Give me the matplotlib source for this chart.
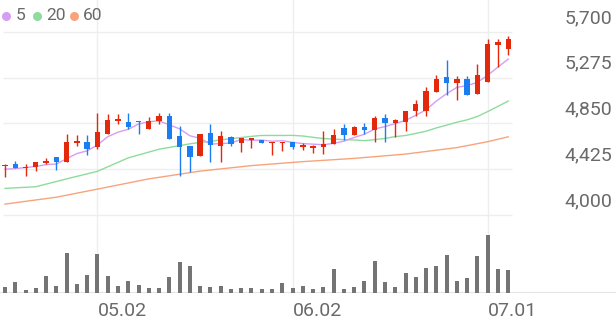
import numpy as np
import pandas as pd
import matplotlib
matplotlib.use("Agg")
import matplotlib.pyplot as plt
from matplotlib import transforms

# daily OHLC, 50 sessions (Apr 18 .. Jul 3)
opens = [4450, 4470, 4435, 4445, 4485, 4535, 4490, 4665, 4680, 4635,
         4755, 4875, 4865, 4875, 4800, 4875, 4920, 4730, 4640, 4545,
         4765, 4640, 4725, 4665, 4695, 4700, 4665, 4665, 4675, 4635,
         4625, 4635, 4655, 4805, 4740, 4820, 4790, 4900, 4850, 4865,
         4960, 4965, 5140, 5280, 5220, 5260, 5120, 5230, 5580, 5540]
highs = [4470, 4500, 4470, 4490, 4530, 4535, 4755, 4740, 4745, 4950,
         4935, 4935, 4950, 4875, 4910, 4945, 4945, 4825, 4640, 4755,
         4840, 4780, 4735, 4710, 4710, 4700, 4680, 4680, 4675, 4665,
         4650, 4780, 4795, 4840, 4830, 4850, 4920, 4935, 4890, 4965,
         5070, 5185, 5300, 5440, 5290, 5290, 5400, 5630, 5630, 5660]
lows = [4350, 4435, 4365, 4410, 4470, 4415, 4490, 4640, 4555, 4615,
        4755, 4840, 4795, 4755, 4800, 4840, 4705, 4365, 4400, 4545,
        4495, 4490, 4640, 4580, 4625, 4665, 4555, 4595, 4610, 4600,
        4575, 4565, 4655, 4695, 4740, 4755, 4680, 4680, 4720, 4775,
        4920, 4920, 5140, 5110, 5070, 5110, 5120, 5230, 5375, 5485]
closes = [4465, 4435, 4445, 4490, 4500, 4495, 4680, 4685, 4615, 4770,
          4880, 4890, 4820, 4860, 4875, 4920, 4705, 4635, 4540, 4755,
          4650, 4735, 4655, 4710, 4710, 4665, 4680, 4680, 4635, 4650,
          4640, 4655, 4740, 4740, 4820, 4790, 4900, 4850, 4880, 4965,
          5030, 5150, 5260, 5220, 5260, 5110, 5300, 5590, 5600, 5630]
volumes = [6, 11, 3, 5, 17, 7, 40, 9, 18, 39,
           17, 7, 12, 8, 5, 5, 16, 31, 27, 7,
           6, 7, 4, 5, 5, 4, 4, 10, 5, 7,
           4, 6, 24, 4, 6, 12, 32, 11, 6, 20,
           16, 25, 27, 38, 12, 15, 37, 58, 24, 23]

# moving averages: heads (need history before the window)
ma5_head = [4425, 4430, 4440, 4450]
ma20_idx = [0, 3, 6, 9, 12, 15, 18]
ma20_head = [4247, 4262, 4335, 4405, 4530, 4610, 4660]
ma60_idx = [0, 5, 9, 14, 19, 24, 29, 34, 39, 44, 47, 49]
ma60 = [4101, 4165, 4240, 4335, 4407, 4458, 4495, 4525, 4565, 4625, 4680, 4725]

tick_pos = [9, 28, 47]
tick_labels = ["05.02", "06.02", "07.01"]
price_ticks = [4000, 4425, 4850, 5275, 5700]

RED = "#e3280c"
BLUE = "#1a7ef0"
GRAY_TXT = "#6a6a6a"
C5, C20, C60 = "#d59ef5", "#8fdb9d", "#f7a47d"
plt.rcParams["font.family"] = ["Roboto", "DejaVu Sans"]

W, H = 616, 321
step = 10.27                      # px per candle
x0 = -5 / step
x1 = x0 + W / step
grid_end = x0 + 512 / step

fig = plt.figure(figsize=(W / 100, H / 100), dpi=100)
ax = fig.add_axes([0, 1 - 220 / H, 1, 220 / H])
axv = fig.add_axes([0, (H - 293) / H, 1, 73 / H])   # 1 y-unit = 1 px
for a in (ax, axv):
    a.set_xlim(x0, x1)
    for s in a.spines.values():
        s.set_visible(False)
    a.set_yticks([])
    a.set_xticks([])
ax.set_ylim(3953.6, 5994)
axv.set_ylim(0, 73)

# grid
ax.hlines(price_ticks, x0 + 3 / step, grid_end, color="#eeeeee", lw=1, zorder=0)
for t in tick_pos:
    ax.axvline(t, color="#eeeeee", lw=1, zorder=0)
    axv.axvline(t, color="#eeeeee", lw=1, zorder=0)

# moving averages
cl = pd.Series(closes)
ma5 = ma5_head + list(cl.rolling(5).mean()[4:])
ma20_x = ma20_idx + list(range(19, len(closes)))
ma20 = ma20_head + list(cl.rolling(20).mean()[19:])
ax.plot(ma60_idx, ma60, color=C60, lw=1.0, zorder=1)
ax.plot(ma20_x, ma20, color=C20, lw=1.0, zorder=1)
ax.plot(range(len(closes)), ma5, color=C5, lw=1.0, zorder=2)

# candles
minh = 14
for i, (o, h, l, c) in enumerate(zip(opens, highs, lows, closes)):
    col = RED if c >= o else BLUE
    ax.vlines(i, l, h, color=col, lw=1.0, zorder=3)
    lo, hi = min(o, c), max(o, c)
    if hi - lo < minh:
        mid = (hi + lo) / 2
        lo, hi = mid - minh / 2, mid + minh / 2
    ax.bar(i, hi - lo, bottom=lo, width=0.52, color=col, zorder=4)

# volume
axv.bar(range(len(volumes)), volumes, width=0.39, color="#747474", zorder=2)
axv.axhline(0, color="#e4e4e4", lw=1.5, zorder=1)

# price labels, sitting above their grid lines
off = transforms.offset_copy(ax.transData, fig=fig, x=0, y=13.7, units="dots")
for p in price_ticks:
    ax.text(x0 + 612 / step, p, f"{p:,}", transform=off, ha="right", va="center",
            fontsize=14, color=GRAY_TXT)

# date labels, left aligned on the grid line, 9 px under the baseline
for t, lab in zip(tick_pos, tick_labels):
    axv.text(t, -9, lab, ha="left", va="top", fontsize=14, color=GRAY_TXT)

# legend
leg = [(5.7, C5, "5", 16), (37, C20, "20", 46.5), (74, C60, "60", 83)]
for cx, col, lab, tx in leg:
    ax.plot([cx / W], [1 - 15.7 / 220], "o", ms=6.5, color=col, mec="none",
            transform=ax.transAxes, clip_on=False)
    ax.text(tx / W, 1 - 15.7 / 220, lab, transform=ax.transAxes, ha="left",
            va="center", fontsize=12.5, color=GRAY_TXT)

fig.savefig("out.png", dpi=100)
